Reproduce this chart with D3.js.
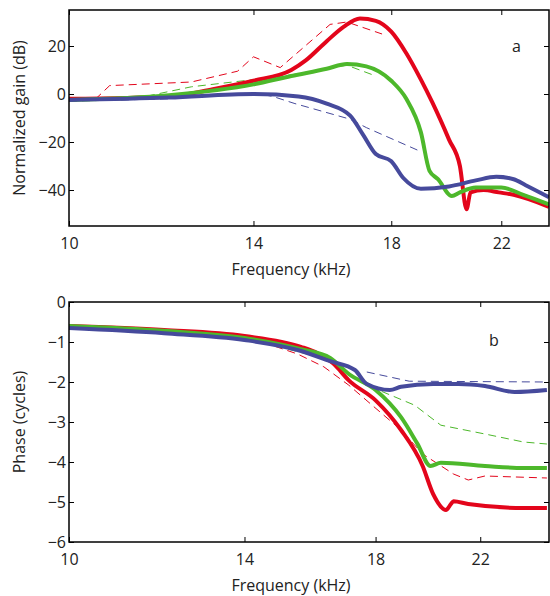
<!DOCTYPE html>
<html><head><meta charset="utf-8">
<script src="https://cdn.jsdelivr.net/npm/d3@7"></script>
<style>body{margin:0;background:#fff}text{font-family:"Open Sans",sans-serif}</style>
</head><body><div id="chart"></div>
<script>
var RED = "#e3051b", GREEN = "#4db82b", BLUE = "#464a9c";

// panel a: gain (dB)
var gainRed = [[10,-2],[12,-1],[13,2],[14,5.5],[15,10],[15.4,14],[16,22],[16.5,28],[17,31.5],[17.5,30.5],[18,26],[18.5,17],[19,6],[19.4,-3.5],[20,-19],[20.4,-30],[20.65,-48],[20.8,-41],[21.3,-40],[21.9,-41],[22.5,-42],[24,-47]];
var gainGreen = [[10,-2.5],[12,-0.5],[14,4],[15,7.5],[16,10.5],[16.6,12.5],[17.2,11.5],[18,5.5],[18.5,-2],[19,-16],[19.3,-32],[19.6,-35.5],[20.1,-42.5],[20.4,-41],[21,-39],[22,-39],[22.9,-42],[24,-46]];
var gainBlue = [[10,-2.5],[12,-1.5],[14,0],[15.2,-1],[16,-4],[16.7,-9],[17.1,-17],[17.5,-25],[18,-28],[18.4,-35],[19,-39.5],[20,-38.5],[21,-36],[21.8,-34.5],[22.5,-35.5],[23,-38],[24,-43]];
var gainRedDash = [[10,-2],[10.5,-2],[10.77,3.5],[12.5,5],[13.6,9.5],[14,15.5],[14.7,11],[16.1,29],[16.6,30],[17.7,25]];
var gainGreenDash = [[10,-3],[11.5,-1],[12.5,3],[14,6],[15,8],[16,10.5],[16.6,12],[17.5,7.5]];
var gainBlueDash = [[10,-3],[12,-2],[14,0.5],[14.5,-1],[15.1,-4],[16.7,-10.5],[17.2,-14],[19,-24]];

// panel b: phase (cycles)
var phaseRed = [[10,-0.6],[12,-0.7],[14,-0.85],[15.6,-1.12],[16.1,-1.28],[16.6,-1.54],[17.1,-1.96],[18,-2.46],[18.9,-3.2],[19.7,-4.1],[20.1,-4.8],[20.6,-5.2],[20.8,-5.05],[20.9,-4.98],[21.5,-5.05],[23.9,-5.15],[25,-5.15]];
var phaseGreen = [[10,-0.6],[12,-0.72],[14,-0.9],[15.6,-1.18],[16.5,-1.4],[17.1,-1.8],[18,-2.2],[18.9,-2.88],[19.5,-3.54],[20,-4.1],[20.4,-4.02],[22.2,-4.1],[23.9,-4.15],[25,-4.15]];
var phaseBlue = [[10,-0.65],[12,-0.78],[14,-0.95],[15.5,-1.2],[16.5,-1.48],[17.3,-1.7],[17.7,-2.05],[18.5,-2.2],[18.9,-2.12],[20.1,-2.05],[21.1,-2.05],[22.2,-2.1],[23.5,-2.25],[25,-2.2]];
var phaseRedDash = [[10,-0.6],[14,-0.85],[15.5,-1.3],[16.3,-1.62],[17.1,-2.08],[18.9,-3.2],[19.7,-3.8],[20.9,-4.3],[21.5,-4.45],[22.2,-4.35],[25,-4.4]];
var phaseGreenDash = [[10,-0.6],[14,-0.9],[16.5,-1.45],[17.7,-2.08],[19.4,-2.58],[20.4,-3.08],[22.2,-3.3],[23.9,-3.5],[25,-3.55]];
var phaseBlueDash = [[17.7,-1.75],[19.2,-1.98],[25,-2.0]];

var xTicks = [10, 14, 18, 22];

var svg = d3.select("#chart").append("svg").attr("width", 550).attr("height", 596);

function panel(opt) {
	var x = d3.scaleLog().domain(opt.xDomain).range([69, 549]);
	var y = d3.scaleLinear().domain(opt.yDomain).range([opt.bottom, opt.top]);
	var g = svg.append("g");
	var clipId = "clip" + opt.tag;
	g.append("clipPath").attr("id", clipId).append("rect")
		.attr("x", 69).attr("y", opt.top).attr("width", 480).attr("height", opt.bottom - opt.top);
	var plot = g.append("g").attr("clip-path", "url(#" + clipId + ")");
	var lineS = d3.line().x(function(d) { return x(d[0]); }).y(function(d) { return y(d[1]); }).curve(d3.curveMonotoneX);
	var lineD = d3.line().x(function(d) { return x(d[0]); }).y(function(d) { return y(d[1]); });
	opt.dashed.forEach(function(s) {
		plot.append("path").attr("d", lineD(s[0])).attr("fill", "none").attr("stroke", s[1])
			.attr("stroke-width", 1).attr("stroke-dasharray", "8,5");
	});
	opt.solid.forEach(function(s) {
		plot.append("path").attr("d", lineS(s[0])).attr("fill", "none").attr("stroke", s[1])
			.attr("stroke-width", 4).attr("stroke-linejoin", "round");
	});
	// axes, ticks inward, mirrored
	function style(a) { a.select(".domain").remove(); a.selectAll("text").style("font-size", "16px").attr("fill", "#222"); a.selectAll("line").attr("stroke", "#000"); }
	g.append("g").attr("transform", "translate(0," + opt.bottom + ")")
		.call(d3.axisBottom(x).tickValues(xTicks).tickFormat(d3.format("d")).tickSizeInner(-5).tickPadding(12)).call(style);
	g.append("g").attr("transform", "translate(0," + opt.top + ")")
		.call(d3.axisTop(x).tickValues(xTicks).tickFormat("").tickSizeInner(-5)).call(style);
	g.append("g").attr("transform", "translate(69,0)")
		.call(d3.axisLeft(y).tickValues(opt.yTicks).tickFormat(function(d) { return d < 0 ? "\u2212" + (-d) : d; }).tickSizeInner(-5).tickPadding(3)).call(style);
	g.append("g").attr("transform", "translate(549,0)")
		.call(d3.axisRight(y).tickValues(opt.yTicks).tickFormat("").tickSizeInner(-5)).call(style);
	g.append("rect").attr("x", 69).attr("y", opt.top).attr("width", 480).attr("height", opt.bottom - opt.top)
		.attr("fill", "none").attr("stroke", "#000").attr("stroke-width", 1.5);
	g.append("text").attr("x", 291).attr("y", opt.bottom + 49).attr("text-anchor", "middle")
		.style("font-size", "16px").attr("fill", "#222").text("Frequency (kHz)");
	g.append("text").attr("transform", "translate(25," + ((opt.top + opt.bottom) / 2) + ") rotate(-90)")
		.attr("text-anchor", "middle").style("font-size", "16px").attr("fill", "#222").text(opt.yLabel);
	g.append("text").attr("x", opt.labelX).attr("y", opt.labelY).style("font-size", "16px").attr("fill", "#222").text(opt.tag);
}

panel({ tag: "a", xDomain: [10, 24], yDomain: [-55, 35], top: 10, bottom: 226, yTicks: [-40, -20, 0, 20],
	yLabel: "Normalized gain (dB)", labelX: 512, labelY: 52,
	solid: [[gainRed, RED], [gainGreen, GREEN], [gainBlue, BLUE]],
	dashed: [[gainRedDash, RED], [gainGreenDash, GREEN], [gainBlueDash, BLUE]] });

panel({ tag: "b", xDomain: [10, 25.1], yDomain: [-6, 0], top: 302, bottom: 542, yTicks: [-6, -5, -4, -3, -2, -1, 0],
	yLabel: "Phase (cycles)", labelX: 489, labelY: 346,
	solid: [[phaseRed, RED], [phaseGreen, GREEN], [phaseBlue, BLUE]],
	dashed: [[phaseRedDash, RED], [phaseGreenDash, GREEN], [phaseBlueDash, BLUE]] });
</script></body></html>
